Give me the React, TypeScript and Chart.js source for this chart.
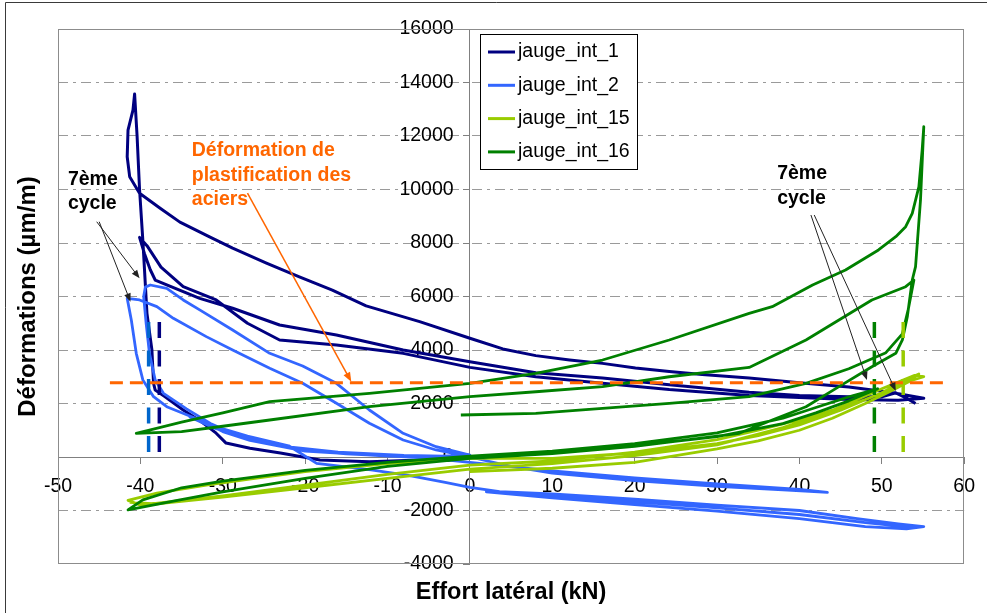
import React, { useEffect, useRef } from 'react';
import { Chart, registerables } from 'chart.js';

Chart.register(...registerables);

type P = [number, number];

const FAMILY = 'Arial, "Liberation Sans", Helvetica, sans-serif';

// ---- axis ticks ----
const xTickValues = [-50, -40, -30, -20, -10, 0, 10, 20, 30, 40, 50, 60];
const yTickValues = [-4000, -2000, 0, 2000, 4000, 6000, 8000, 10000, 12000, 14000, 16000];

// ---- series (effort kN, déformation µm/m) ----
const jauge1: P[] = [
  [0, 20], [-6, -110], [-12.2, -175], [-18.2, -110], [-23, 150], [-26.7, 330], [-29.6, 520], [-30.8, 890],
  [-32.5, 1300], [-34.8, 1760], [-37, 2250], [-38.2, 2500], [-38.4, 2755], [-38.6, 4000], [-39.2, 5370],
  [-39.7, 8100], [-40.1, 10000], [-40.4, 12000], [-40.7, 13570],
  [-40.9, 12970], [-41.5, 12220], [-41.6, 11225], [-41.3, 10480], [-40.1, 9860],
  [-37.6, 9300], [-35.2, 8780], [-31.6, 8230], [-28.8, 7810], [-24.7, 7250], [-20.7, 6730], [-16.7, 6240],
  [-12.6, 5650], [-6.1, 5060], [0, 4440], [4, 4040], [8, 3790], [12.1, 3630], [16.1, 3500], [20.1, 3330],
  [24.2, 3200], [28.2, 3080], [33.9, 2950], [40, 2780], [46, 2620], [51, 2420], [55.1, 2200],
  [52, 2120], [46, 2150], [40, 2220], [33.9, 2300], [24.2, 2520], [16.1, 2760], [8, 3000], [0, 3350],
  [-8.1, 3875], [-16.2, 4187], [-23.1, 4374], [-27, 5000], [-30.8, 5870], [-34.8, 6366], [-37.5, 7100],
  [-39.2, 7900], [-40.1, 8210],
  [-39.5, 7600], [-38.8, 7000], [-38.2, 6616], [-36.8, 6430], [-32.8, 5930], [-28.8, 5560], [-23.1, 4934],
  [-16.2, 4560], [-8.1, 4000], [0, 3563], [8, 3150], [16.1, 2950], [24.2, 2700], [33.9, 2420], [40, 2300],
  [46, 2250], [50, 2250], [51.7, 2400], [53, 2200], [54.1, 2000],
];

const jauge2: P[] = [
  [0, 0], [5, -350], [10, -600], [20, -880], [30, -1100], [38, -1230], [43.4, -1320], [40, -1210], [30, -1010],
  [20, -780], [10, -520], [0, -200], [-5, -40],
  [-10, 40], [-15, 120], [-20, 250], [-24, 500], [-28.8, 886], [-31.5, 1250], [-34.4, 1800], [-37.2, 2380],
  [-38.2, 2880], [-38.9, 3876], [-39.3, 5000], [-39.6, 6000], [-39.4, 6350], [-38.8, 6430],
  [-36.8, 6305], [-34.8, 5870], [-32.8, 5500], [-28.8, 4750], [-24.3, 3876], [-20.3, 3400], [-16.2, 2755],
  [-12.2, 1757], [-8.1, 886], [-4.1, 385], [0, 75],
  [-5, -10], [-10, 30], [-20, 220], [-26.7, 620], [-30, 950], [-32.8, 1383], [-36.8, 1880], [-38.4, 2255],
  [-39.7, 2880], [-40.5, 3876], [-41.1, 5120], [-41.6, 5930],
  [-40.1, 5870], [-38, 5620], [-36, 5185], [-32, 4500], [-28.8, 4000], [-24.3, 3315], [-20.3, 2755],
  [-16.2, 2007], [-12.2, 1260], [-8.1, 635], [-4.1, 262], [0, 10],
  [-8, 60], [-16, 180], [-22, 380], [-27, 700], [-31, 1080], [-34, 1500], [-31, 1150], [-27, 780],
  [-22, 420], [-18.6, -237], [-12, -480], [-7.3, -700], [-3, -950], [0, -1133], [3.6, -1297],
  [10, -1380], [20, -1580], [30, -1800], [40, -2000], [47, -2300], [52, -2500], [55.1, -2605],
  [53, -2690], [48, -2600], [40, -2300], [30, -2020], [20, -1780], [10, -1530], [2, -1300],
  [10, -1450], [20, -1680], [30, -1900], [40, -2150], [48, -2450], [54, -2640],
];

const jauge15: P[] = [
  [0, -550], [10, -420], [20, -200], [30, 300], [35, 600], [40, 1000], [44, 1450], [48, 2000], [51, 2450],
  [53.5, 2850], [55.1, 3000],
  [54, 3050], [52, 2800], [50, 2550], [47, 2150], [44, 1750], [40, 1400], [35, 1000], [30, 650], [20, 180],
  [10, -150], [0, -300],
  [-10, -650], [-20, -1050], [-30, -1450], [-35, -1620], [-40, -1800], [-41.5, -1620],
  [-38, -1350], [-32, -1050], [-25, -750], [-20, -550], [-10, -250], [0, -50],
  [10, -50], [20, 150], [30, 500], [35, 800], [40, 1200], [45, 1750], [50, 2400], [53, 2900], [54.5, 3100],
  [52.5, 2700], [48, 2150], [43, 1600], [38, 1100], [30, 450], [20, 50], [10, -250], [0, -450], [-10, -800],
  [-20, -1150], [-30, -1500], [-38, -1750], [-41.3, -1700],
];

const jauge16: P[] = [
  [0, 0], [10, 150], [20, 420], [30, 760], [38, 1250], [42, 1650], [46, 2100], [49.5, 2550],
  [46, 2250], [42, 1850], [38, 1450], [30, 900], [20, 500], [10, 220], [0, 30],
  [-10, -200], [-20, -500], [-30, -900], [-35, -1150], [-39.7, -1600], [-41.5, -1980],
  [-36, -1650], [-30, -1300], [-20, -800], [-10, -350], [0, -50],
  [10, 130], [20, 400], [30, 780], [32.7, 886], [36.7, 1383], [40.8, 1880], [44.8, 2630], [48.8, 3375],
  [51.7, 3876], [52.5, 4374], [53.1, 5245], [53.7, 6616], [54.1, 7114], [54.7, 9600], [55.1, 12350],
  [54.9, 11476], [54.5, 10100], [53.7, 9110], [52.9, 8610], [51.7, 8235], [49.6, 7740], [45.6, 6990],
  [41.6, 6430], [36.7, 5620], [33.9, 5370], [24.2, 4374], [16.1, 3626], [8, 3130], [0, 2755], [-12.2, 2380],
  [-24.3, 2067], [-30, 1650], [-35, 1300], [-40.5, 886],
  [-35, 950], [-30, 1150], [-24.3, 1383], [-12.2, 1880], [0, 2254], [8, 2440], [16.1, 2630], [24.2, 3000],
  [33.9, 3350], [40.8, 4374], [48.8, 5870], [52.9, 6366], [53.9, 6616],
  [53.2, 5500], [52.5, 4600], [50.5, 3900], [46, 3300], [40.8, 2750], [33.9, 2254], [24.2, 2007], [16.1, 1820],
  [8, 1633], [-1.1, 1570],
];

// ---- reference lines ----
const plastification: P[] = [[-43.7, 2780], [57.7, 2780]];
const cycle7Int1: P[] = [[-37.7, 5050], [-37.7, 0]];
const cycle7Int2: P[] = [[-39.0, 5050], [-39.0, 0]];
const cycle7Int16: P[] = [[49.1, 5050], [49.1, 0]];
const cycle7Int15: P[] = [[52.6, 5050], [52.6, 0]];

const toXY = (pts: P[]) => pts.map(([x, y]) => ({ x, y }));

const ORANGE = '#FF6600';

function arrow(ctx: CanvasRenderingContext2D, x1: number, y1: number, x2: number, y2: number,
  color: string, width: number, head: number) {
  const ang = Math.atan2(y2 - y1, x2 - x1);
  ctx.strokeStyle = color;
  ctx.fillStyle = color;
  ctx.lineWidth = width;
  ctx.setLineDash([]);
  ctx.beginPath();
  ctx.moveTo(x1, y1);
  ctx.lineTo(x2 - Math.cos(ang) * head * 0.7, y2 - Math.sin(ang) * head * 0.7);
  ctx.stroke();
  ctx.beginPath();
  ctx.moveTo(x2, y2);
  ctx.lineTo(x2 - head * Math.cos(ang - 0.38), y2 - head * Math.sin(ang - 0.38));
  ctx.lineTo(x2 - head * Math.cos(ang + 0.38), y2 - head * Math.sin(ang + 0.38));
  ctx.closePath();
  ctx.fill();
}

const decorations = {
  id: 'decorations',
  afterDraw(chart: any) {
    const { ctx, chartArea: ca, scales } = chart;
    const px = (v: number) => scales.x.getPixelForValue(v);
    const py = (v: number) => scales.y.getPixelForValue(v);
    ctx.save();

    // plot area border
    ctx.strokeStyle = '#8c8c8c';
    ctx.lineWidth = 1;
    ctx.strokeRect(Math.round(ca.left) + 0.5, Math.round(ca.top) + 0.5, Math.round(ca.width) - 1, Math.round(ca.height) - 1);

    // outer frame (clipped at right/bottom)
    ctx.strokeStyle = '#3a3a3a';
    ctx.beginPath();
    ctx.moveTo(5.5, chart.height);
    ctx.lineTo(5.5, 2.5);
    ctx.lineTo(chart.width, 2.5);
    ctx.stroke();

    // axis titles
    ctx.fillStyle = '#000';
    ctx.textAlign = 'center';
    ctx.textBaseline = 'middle';
    ctx.font = `bold 23.5px ${FAMILY}`;
    ctx.fillText('Effort latéral (kN)', (ca.left + ca.right) / 2, 593);
    ctx.save();
    ctx.translate(28, (ca.top + ca.bottom) / 2);
    ctx.rotate(-Math.PI / 2);
    ctx.font = `bold 24px ${FAMILY}`;
    ctx.fillText('Déformations (µm/m)', 0, 0);
    ctx.restore();

    // annotations text
    ctx.textAlign = 'left';
    ctx.font = `bold 19.5px ${FAMILY}`;
    ctx.fillStyle = ORANGE;
    ['Déformation de', 'plastification des', 'aciers'].forEach((t, i) =>
      ctx.fillText(t, px(-33.76), py(11438) + i * 24.5));
    ctx.fillStyle = '#000';
    ['7ème', 'cycle'].forEach((t, i) => ctx.fillText(t, px(-48.8), py(10354) + i * 24));
    ['7ème', 'cycle'].forEach((t, i) => ctx.fillText(t, px(37.3), py(10579) + i * 24.5));

    // arrows
    arrow(ctx, px(-27.0), py(9868), px(-14.4), py(2815), ORANGE, 1.5, 10);
    arrow(ctx, px(-45.3), py(8795), px(-40.1), py(6680), '#222', 1, 9);
    arrow(ctx, px(-45.0), py(8795), px(-41.2), py(5805), '#222', 1, 9);
    arrow(ctx, px(41.4), py(9046), px(48.2), py(2878), '#222', 1, 9);
    arrow(ctx, px(41.8), py(9046), px(51.7), py(2467), '#222', 1, 9);

    // legend
    const lx = 480.5, ly = 34.5, lw = 157, lh = 135;
    ctx.fillStyle = '#fff';
    ctx.fillRect(lx, ly, lw, lh);
    ctx.strokeStyle = '#000';
    ctx.lineWidth = 1;
    ctx.strokeRect(lx, ly, lw, lh);
    ctx.font = `19.5px ${FAMILY}`;
    ctx.textBaseline = 'middle';
    chart.data.datasets.slice(0, 4).forEach((ds: any, i: number) => {
      const cy = 52 + i * 33.3;
      ctx.strokeStyle = ds.borderColor;
      ctx.lineWidth = 3;
      ctx.beginPath();
      ctx.moveTo(488, cy);
      ctx.lineTo(515, cy);
      ctx.stroke();
      ctx.fillStyle = '#000';
      ctx.fillText(ds.label, 518, cy);
    });

    ctx.restore();
  },
};

export default function App() {
  const ref = useRef<HTMLCanvasElement>(null);
  useEffect(() => {
    const canvas = ref.current!;
    const curve = (label: string, pts: P[], color: string, order: number, width: number) => ({
      label, data: toXY(pts), borderColor: color, backgroundColor: color, borderWidth: width,
      showLine: true, pointRadius: 0, order, fill: false, borderJoinStyle: 'round',
    });
    const dashed = (label: string, pts: P[], color: string, width: number, dash: number[]) => ({
      label, data: toXY(pts), borderColor: color, backgroundColor: color, borderWidth: width,
      borderDash: dash, showLine: true, pointRadius: 0, order: 0, fill: false, borderCapStyle: 'butt',
    });
    const chart = new Chart(canvas, {
      type: 'scatter',
      data: {
        datasets: [
          curve('jauge_int_1', jauge1, '#000080', 4, 3),
          curve('jauge_int_2', jauge2, '#3366FF', 3, 2.8),
          curve('jauge_int_15', jauge15, '#99CC00', 2, 2.8),
          curve('jauge_int_16', jauge16, '#008000', 1, 2.8),
          dashed('plastification', plastification, ORANGE, 3, [13, 7]),
          dashed('c7_1', cycle7Int1, '#000080', 3.5, [16, 12.5]),
          dashed('c7_2', cycle7Int2, '#0066CC', 3.5, [16, 12.5]),
          dashed('c7_16', cycle7Int16, '#008000', 3.5, [16, 12.5]),
          dashed('c7_15', cycle7Int15, '#99CC00', 3.5, [16, 12.5]),
        ] as any,
      },
      options: {
        responsive: false,
        animation: false,
        layout: { padding: { left: 58, top: 29, right: 21, bottom: 49 } },
        plugins: { legend: { display: false }, tooltip: { enabled: false }, title: { display: false } },
        elements: { line: { tension: 0 }, point: { radius: 0 } },
        scales: {
          x: {
            type: 'linear', min: -50, max: 60, position: { y: 0 } as any,
            afterBuildTicks: (s: any) => { s.ticks = xTickValues.map((v) => ({ value: v })); },
            ticks: {
              color: '#000', font: { size: 19.5, family: FAMILY }, padding: 12,
              maxRotation: 0, autoSkip: false, callback: (v: any) => String(v),
            },
            grid: { drawOnChartArea: false, drawTicks: true, tickLength: 6, tickColor: '#808080', color: '#808080' },
            border: { color: '#808080', width: 1 },
          },
          y: {
            type: 'linear', min: -4000, max: 16000, position: { x: 0 } as any,
            afterBuildTicks: (s: any) => { s.ticks = yTickValues.map((v) => ({ value: v })); },
            ticks: {
              color: '#000', font: { size: 19.5, family: FAMILY }, padding: 10,
              autoSkip: false, callback: (v: any) => String(v) + '   ',
            },
            grid: {
              color: (c: any) => (c.tick && [0, -4000, 16000].includes(c.tick.value) ? 'rgba(0,0,0,0)' : '#9a9a9a'),
              lineWidth: 1, drawTicks: true, tickLength: 6, tickColor: '#808080',
            },
            border: { color: '#808080', width: 1, dash: [10, 5, 3, 5] },
          },
        },
      },
      plugins: [decorations],
    } as any);
    return () => chart.destroy();
  }, []);

  return (
    <div style={{ position: 'absolute', left: 0, top: 0, width: 987, height: 613, background: '#fff' }}>
      <canvas ref={ref} width={987} height={613} style={{ display: 'block', width: 987, height: 613 }} />
    </div>
  );
}
